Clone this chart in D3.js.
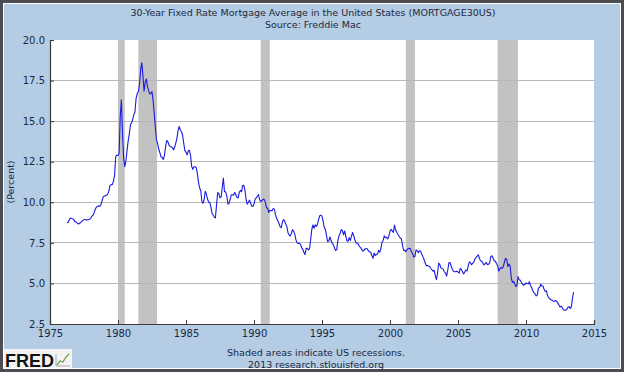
<!DOCTYPE html>
<html>
<head>
<meta charset="utf-8">
<script src="https://cdn.jsdelivr.net/npm/d3@7"></script>
<style>
  html, body { margin: 0; padding: 0; background: #fff; }
  svg { display: block; }
</style>
</head>
<body>
<div id="chart"></div>
<script>
// Monthly 30-year fixed mortgage rate (%), starting April 1976
const startYear = 1976, startMonth = 3; // 0-based month index -> April
const rates1970s = [
  8.73, 8.77, 8.92, 9.03, 9.00, 8.99, 8.93, 8.81, 8.79,
  8.72, 8.66, 8.69, 8.75, 8.83, 8.86, 8.94, 8.94, 8.90, 8.92, 8.92, 8.96,
  9.02, 9.15, 9.20, 9.36, 9.57, 9.71, 9.74, 9.78, 9.76, 9.86, 10.11, 10.35,
  10.39, 10.41, 10.43, 10.50, 10.69, 11.04, 11.09, 11.09, 11.30, 11.64, 12.83, 12.90
];
const rates1980s = [
  12.88, 13.04, 15.28, 16.32, 14.26, 12.71, 12.19, 12.56, 13.20, 13.79, 14.21, 14.79,
  14.90, 15.13, 15.40, 15.58, 16.40, 16.70, 16.83, 17.29, 18.16, 18.60, 17.83, 16.85,
  17.40, 17.60, 17.16, 16.89, 16.68, 16.70, 16.82, 16.27, 15.43, 14.61, 13.83, 13.62,
  13.25, 13.04, 12.80, 12.78, 12.63, 12.87, 13.42, 13.81, 13.73, 13.54, 13.44, 13.42,
  13.37, 13.23, 13.39, 13.65, 13.94, 14.42, 14.67, 14.47, 14.35, 14.13, 13.64, 13.18,
  13.08, 12.92, 13.17, 13.20, 12.91, 12.22, 12.03, 12.19, 12.19, 12.14, 11.78, 11.26,
  10.88, 10.71, 10.08, 9.94, 10.14, 10.68, 10.51, 10.20, 10.01, 9.98, 9.70, 9.32,
  9.20, 9.08, 9.04, 9.83, 10.60, 10.54, 10.28, 10.33, 10.89, 11.50, 10.65, 10.64,
  10.38, 9.89, 9.93, 10.20, 10.46, 10.46, 10.43, 10.60, 10.48, 10.30, 10.27, 10.61,
  10.73, 10.65, 11.03, 11.05, 10.77, 10.20, 9.88, 9.99, 10.13, 9.95, 9.77, 9.74
];
const rates1990s = [
  9.90, 10.20, 10.27, 10.37, 10.48, 10.16, 10.04, 10.10, 10.18, 10.18, 10.01, 9.67,
  9.64, 9.37, 9.50, 9.49, 9.47, 9.62, 9.58, 9.24, 9.01, 8.86, 8.71, 8.50,
  8.43, 8.76, 8.94, 8.85, 8.67, 8.51, 8.13, 7.98, 7.92, 8.09, 8.31, 8.22,
  8.02, 7.68, 7.50, 7.47, 7.47, 7.42, 7.21, 7.11, 6.92, 6.78, 7.16, 7.17,
  7.06, 7.15, 7.68, 8.32, 8.60, 8.40, 8.61, 8.51, 8.64, 8.93, 9.17, 9.20,
  9.15, 8.83, 8.46, 8.32, 7.96, 7.57, 7.61, 7.86, 7.64, 7.48, 7.38, 7.20,
  7.03, 7.08, 7.62, 7.93, 8.07, 8.32, 8.25, 8.00, 8.23, 7.92, 7.62, 7.60,
  7.82, 7.65, 7.90, 8.14, 7.94, 7.69, 7.50, 7.48, 7.43, 7.29, 7.21, 7.10,
  6.99, 7.04, 7.13, 7.14, 7.14, 7.00, 6.95, 6.92, 6.72, 6.55, 6.87, 6.72,
  6.79, 6.81, 7.04, 6.92, 7.15, 7.55, 7.63, 7.94, 7.82, 7.85, 7.74, 7.91
];
const rates2000s = [
  8.21, 8.33, 8.24, 8.15, 8.60, 8.29, 8.15, 8.03, 7.91, 7.80, 7.75, 7.38,
  7.03, 7.05, 6.95, 7.08, 7.15, 7.16, 7.13, 6.95, 6.82, 6.62, 6.66, 7.07,
  7.00, 6.89, 7.01, 6.99, 6.81, 6.65, 6.49, 6.29, 6.09, 6.11, 6.07, 6.05,
  5.92, 5.84, 5.75, 5.81, 5.48, 5.23, 5.63, 6.26, 6.15, 5.95, 5.93, 5.88,
  5.71, 5.64, 5.45, 5.83, 6.27, 6.29, 6.06, 5.87, 5.75, 5.72, 5.73, 5.75,
  5.71, 5.63, 5.93, 5.86, 5.72, 5.58, 5.70, 5.82, 5.77, 6.07, 6.33, 6.27,
  6.15, 6.25, 6.32, 6.51, 6.60, 6.68, 6.76, 6.52, 6.40, 6.36, 6.24, 6.14,
  6.22, 6.29, 6.16, 6.18, 6.26, 6.66, 6.70, 6.57, 6.38, 6.38, 6.21, 6.10,
  5.76, 5.92, 5.97, 5.92, 6.04, 6.32, 6.55, 6.48, 6.04, 6.20, 6.09, 5.33,
  5.06, 5.13, 5.00, 4.81, 4.86, 5.42, 5.22, 5.19, 5.06, 4.95, 4.88, 4.93
];
const rates2010s = [
  5.03, 4.99, 4.97, 5.10, 4.89, 4.74, 4.56, 4.43, 4.35, 4.23, 4.30, 4.71,
  4.76, 4.95, 4.84, 4.84, 4.64, 4.51, 4.55, 4.27, 4.11, 4.07, 3.99, 3.96,
  3.92, 3.89, 3.95, 3.91, 3.80, 3.68, 3.55, 3.60, 3.50, 3.38, 3.35, 3.35,
  3.41, 3.53, 3.57, 3.45, 3.54, 4.07, 4.46
];

// NBER recessions (shaded areas)
const recessions = [
  ["1980-01-01", "1980-07-01"],
  ["1981-07-01", "1982-11-15"],
  ["1990-07-01", "1991-03-01"],
  ["2001-03-01", "2001-11-01"],
  ["2007-12-01", "2009-06-01"]
];

const yTicks = [2.5, 5.0, 7.5, 10.0, 12.5, 15.0, 17.5, 20.0];
const xTickYears = [1975, 1980, 1985, 1990, 1995, 2000, 2005, 2010, 2015];

const titleText = "30-Year Fixed Rate Mortgage Average in the United States (MORTGAGE30US)";
const sourceText = "Source: Freddie Mac";
const yLabel = "(Percent)";
const noteText = "Shaded areas indicate US recessions.";
const creditText = "2013 research.stlouisfed.org";

const W = 624, H = 372;
const bg = "#b4cce4";
const ink = "#1d2840";
const font = "'DejaVu Sans', sans-serif";

const rates = [].concat(rates1970s, rates1980s, rates1990s, rates2000s, rates2010s);
const data = rates.map((v, i) => ({ date: new Date(startYear, startMonth + i, 1), value: v }));

const svg = d3.select("#chart").append("svg")
  .attr("width", W)
  .attr("height", H);

// frame
svg.append("rect").attr("width", W).attr("height", H).attr("fill", "#4b4d52");
svg.append("rect").attr("x", 3).attr("y", 3).attr("width", W - 6).attr("height", H - 6).attr("fill", "#ffffff");
svg.append("rect").attr("x", 4).attr("y", 4).attr("width", W - 8).attr("height", H - 8).attr("fill", bg);

const plot = { left: 50, right: 594, top: 40, bottom: 324 };

const x = d3.scaleTime()
  .domain([new Date(1975, 0, 1), new Date(2015, 0, 1)])
  .range([plot.left, plot.right]);

const y = d3.scaleLinear()
  .domain([2.5, 20])
  .range([plot.bottom, plot.top]);

// plot background
svg.append("rect")
  .attr("x", plot.left).attr("y", plot.top)
  .attr("width", plot.right - plot.left).attr("height", plot.bottom - plot.top)
  .attr("fill", "#ffffff");

// recession bands
svg.append("g").selectAll("rect")
  .data(recessions)
  .join("rect")
  .attr("x", d => x(new Date(d[0])))
  .attr("width", d => x(new Date(d[1])) - x(new Date(d[0])))
  .attr("y", plot.top)
  .attr("height", plot.bottom - plot.top)
  .attr("fill", "#c2c2c2");

// horizontal grid
svg.append("g").selectAll("line")
  .data(yTicks.filter(t => t > 2.5 && t < 20))
  .join("line")
  .attr("x1", plot.left).attr("x2", plot.right)
  .attr("y1", d => y(d)).attr("y2", d => y(d))
  .attr("stroke", "#b8b8b8")
  .attr("stroke-width", 1)
  .attr("shape-rendering", "crispEdges");

// series
const line = d3.line()
  .x(d => x(d.date))
  .y(d => y(d.value));

svg.append("path")
  .datum(data)
  .attr("fill", "none")
  .attr("stroke", "#1a1ae0")
  .attr("stroke-width", 1.1)
  .attr("stroke-linejoin", "round")
  .attr("d", line);

// axes
const yAxis = svg.append("g")
  .attr("transform", `translate(${plot.left},0)`)
  .call(d3.axisRight(y).tickValues(yTicks).tickSize(4).tickFormat(d3.format(".1f")));
yAxis.selectAll("text")
  .attr("x", -5)
  .attr("text-anchor", "end");

const xAxis = svg.append("g")
  .attr("transform", `translate(0,${plot.bottom})`)
  .call(d3.axisTop(x).tickValues(xTickYears.map(yr => new Date(yr, 0, 1))).tickSize(4).tickFormat(d3.timeFormat("%Y")));
xAxis.selectAll("text")
  .attr("y", 13)
  .attr("dy", 0);

[yAxis, xAxis].forEach(ax => {
  ax.select(".domain").attr("stroke", "#3a3a3a").attr("stroke-width", 1.2);
  ax.selectAll(".tick line").attr("stroke", "#3a3a3a");
  ax.selectAll("text")
    .attr("fill", ink)
    .attr("font-family", font)
    .attr("font-size", "10px");
});

// titles
svg.append("text")
  .attr("x", 313).attr("y", 16)
  .attr("text-anchor", "middle")
  .attr("font-family", font).attr("font-size", "9.5px")
  .attr("fill", ink)
  .text(titleText);

svg.append("text")
  .attr("x", 313).attr("y", 28)
  .attr("text-anchor", "middle")
  .attr("font-family", font).attr("font-size", "9.5px")
  .attr("fill", ink)
  .text(sourceText);

svg.append("text")
  .attr("transform", `translate(14,${(plot.top + plot.bottom) / 2}) rotate(-90)`)
  .attr("text-anchor", "middle")
  .attr("font-family", font).attr("font-size", "9.5px")
  .attr("fill", ink)
  .text(yLabel);

svg.append("text")
  .attr("x", 316).attr("y", 356)
  .attr("text-anchor", "middle")
  .attr("font-family", font).attr("font-size", "9.5px")
  .attr("fill", ink)
  .text(noteText);

svg.append("text")
  .attr("x", 316).attr("y", 368)
  .attr("text-anchor", "middle")
  .attr("font-family", font).attr("font-size", "9.5px")
  .attr("fill", ink)
  .text(creditText);

// FRED logo
const logo = svg.append("g").attr("transform", "translate(4,349)");
logo.append("rect").attr("width", 68).attr("height", 19).attr("fill", "#f4f4f4");
logo.append("text")
  .attr("x", 1).attr("y", 18)
  .attr("font-family", "'Liberation Sans', Arial, sans-serif")
  .attr("font-weight", "bold")
  .attr("font-size", "18px")
  .attr("fill", "#111")
  .text("FRED");
logo.append("path")
  .attr("d", "M53,16 L56,12 L59,13 L62,8 L65,5")
  .attr("fill", "none")
  .attr("stroke", "#6aa84f")
  .attr("stroke-width", 1.3);
logo.append("path")
  .attr("d", "M52,17 L66,17 M52,17 L52,5")
  .attr("fill", "none")
  .attr("stroke", "#9a9a9a")
  .attr("stroke-width", 0.8);
</script>
</body>
</html>
